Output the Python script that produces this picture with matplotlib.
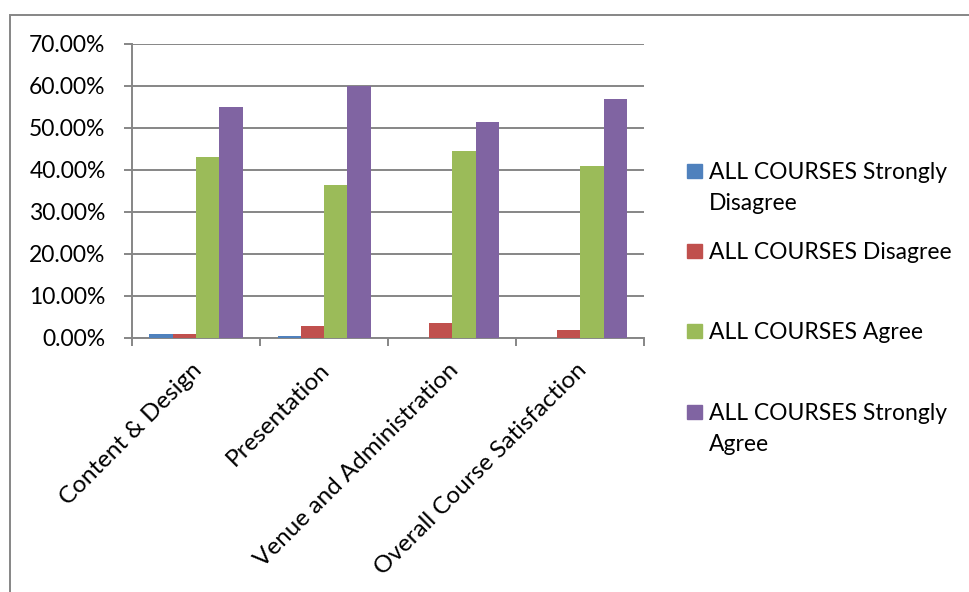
import numpy as np
import matplotlib
matplotlib.use('Agg')
import matplotlib.pyplot as plt
from matplotlib.patches import Rectangle
from matplotlib.transforms import ScaledTranslation

# datos (porcentajes)
categorias = ['Content & Design', 'Presentation', 'Venue and Administration',
              'Overall Course Satisfaction']
series = ['ALL COURSES Strongly Disagree', 'ALL COURSES Disagree',
          'ALL COURSES Agree', 'ALL COURSES Strongly Agree']
etiquetas_leyenda = ['ALL COURSES Strongly\nDisagree', 'ALL COURSES Disagree',
                     'ALL COURSES Agree', 'ALL COURSES Strongly\nAgree']
strongly_disagree = [0.95, 0.4, 0.0, 0.0]
disagree = [0.95, 2.9, 3.5, 1.8]
agree = [43.0, 36.4, 44.6, 41.0]
strongly_agree = [55.0, 60.0, 51.5, 57.0]
colores = ['#4F81BD', '#C0504D', '#9BBB59', '#8064A2']

valores = [strongly_disagree, disagree, agree, strongly_agree]

plt.rcParams['font.family'] = ['Lato', 'DejaVu Sans']
gris = '#868686'
fs = 16.5

W, H = 970, 592
fig = plt.figure(figsize=(W / 100, H / 100), dpi=100)
ax = fig.add_axes([132 / W, 1 - 338 / H, (644.5 - 132) / W, (338 - 44) / H])

x = np.arange(len(categorias))
ancho = 1 / (len(series) + 1.5)
for i, (vals, col) in enumerate(zip(valores, colores)):
    ax.bar(x + (i - 1.5) * ancho, vals, width=ancho, color=col, label=series[i],
           zorder=3)

ax.set_xlim(-0.5, len(categorias) - 0.5)
ax.set_ylim(0, 70)
ax.set_yticks(np.arange(0, 71, 10))
ax.set_yticklabels(['%.2f%%' % v for v in np.arange(0, 71, 10)], fontsize=fs)
ax.set_xticks(x)
ax.set_xticklabels(categorias, rotation=45, ha='right', rotation_mode='anchor',
                   fontsize=17.5)
ax.set_xticks(np.arange(-0.5, len(categorias)), minor=True)
ax.tick_params(axis='x', which='major', length=0, pad=15)
ax.tick_params(axis='x', which='minor', length=6, width=1.4, color=gris)
ax.tick_params(axis='y', length=6, width=1.4, color=gris, pad=13)
# pequeno desplazamiento a la izquierda de las etiquetas
desp = ScaledTranslation(-5 / 100, 0, fig.dpi_scale_trans)
for lbl in ax.get_xticklabels():
    lbl.set_transform(lbl.get_transform() + desp)

ax.grid(axis='y', color=gris, linewidth=1.4, zorder=0)
for lado in ['top', 'right']:
    ax.spines[lado].set_visible(False)
for lado in ['left', 'bottom']:
    ax.spines[lado].set_color(gris)
    ax.spines[lado].set_linewidth(1.4)

# leyenda manual (marcador alineado con la primera linea)
y_centros = [171, 251, 331, 412]
for lab, col, yc in zip(etiquetas_leyenda, colores, y_centros):
    fig.patches.append(Rectangle((687 / W, 1 - (yc + 7) / H), 15 / W, 14 / H,
                                 transform=fig.transFigure, color=col))
    for k, linea in enumerate(lab.split('\n')):
        fig.text(709 / W, 1 - (yc + 8 + 31 * k) / H, linea, fontsize=fs,
                 va='baseline', ha='left')

# marco exterior del grafico
fig.patches.append(Rectangle((10 / W, -0.1), 1.2, 1 - 15 / H + 0.1,
                             transform=fig.transFigure, fill=False,
                             edgecolor=gris, linewidth=1.4))

plt.savefig('out.png', dpi=100)
